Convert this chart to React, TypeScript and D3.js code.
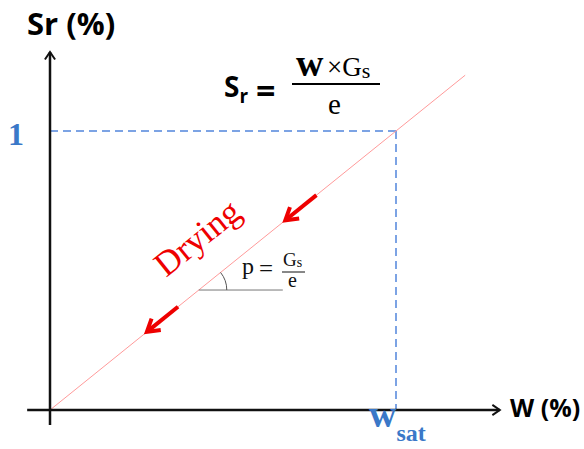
import React from 'react';
import * as d3 from 'd3';

// Sr = w * Gs / e, drawn in units where w_sat -> 1 and Sr(sat) -> 1
const lineW = [0, 1.2];
const lineSr = [0, 1.2];
const satW = 1;
const satSr = 1;

// drying arrows along the line (tail -> tip, in w units)
const arrowTail = [0.77, 0.37];
const arrowTip = [0.68, 0.28];

// axis extents
const xAxisExtent = [-0.066, 1.3];
const yAxisExtent = [-0.054, 1.283];

// slope marker
const slopeAt = 0.43;
const slopeEnd = 0.67;

const xLabel = 'W (%)';
const yLabel = 'Sr (%)';
const yTick = '1';
const xTick = 'w';
const xTickSub = 'sat';

const width = 584;
const height = 449;

const serif = '"Liberation Serif", "DejaVu Serif", serif';
const sans = '"Open Sans", "Noto Sans", sans-serif';

export default function App() {
    const x = d3.scaleLinear().domain([0, 1]).range([50, 396]);
    const y = d3.scaleLinear().domain([0, 1]).range([410, 131]);

    const line = d3.line<number>()
        .x((d, i) => x(lineW[i]))
        .y((d, i) => y(lineSr[i]));

    const angle = Math.atan2(y(0) - y(1), x(1) - x(0));
    const angleDeg = angle * 180 / Math.PI;

    // chevron at (tx, ty) pointing in direction dir (radians, screen)
    const chevron = (tx: number, ty: number, dir: number, len: number, spread: number) => {
        const p = d3.path();
        p.moveTo(tx - len * Math.cos(dir - spread), ty - len * Math.sin(dir - spread));
        p.lineTo(tx, ty);
        p.lineTo(tx - len * Math.cos(dir + spread), ty - len * Math.sin(dir + spread));
        return p.toString();
    };

    const arc = d3.path();
    const cx = x(slopeAt);
    const cy = y(slopeAt);
    arc.arc(cx, cy, 28, -angle, 0);

    const xa0 = x(xAxisExtent[0]);
    const xa1 = x(xAxisExtent[1]);
    const ya0 = y(yAxisExtent[0]);
    const ya1 = y(yAxisExtent[1]);

    return (
        <svg width={width} height={height} style={{ position: 'absolute', left: 0, top: 0, background: '#fff' }}>
            {/* saturation guides */}
            <line x1={x(0)} y1={y(satSr)} x2={x(satW)} y2={y(satSr)}
                stroke="#5285dc" strokeWidth={1.5} strokeDasharray="8,5" />
            <line x1={x(satW)} y1={y(satSr)} x2={x(satW)} y2={y(0)}
                stroke="#5285dc" strokeWidth={1.5} strokeDasharray="8,5" />

            {/* Sr line */}
            <path d={line(lineW) || ''} fill="none" stroke="#ff9a9a" strokeWidth={1} />

            {/* axes */}
            <line x1={xa0} y1={y(0)} x2={xa1} y2={y(0)} stroke="#111" strokeWidth={2.5} />
            <path d={chevron(xa1, y(0), 0, 9, 0.6)} fill="none" stroke="#111" strokeWidth={2} />
            <line x1={x(0)} y1={ya0} x2={x(0)} y2={ya1} stroke="#111" strokeWidth={2.5} />
            <path d={chevron(x(0), ya1, -Math.PI / 2, 9, 0.6)} fill="none" stroke="#111" strokeWidth={2} />

            <text x={27} y={35} fontFamily={sans} fontWeight="bold" fontSize={31} fill="#000">{yLabel}</text>
            <text x={510} y={417} fontFamily={sans} fontWeight="bold" fontSize={25} fill="#000">{xLabel}</text>

            <text x={8} y={145} fontFamily={serif} fontWeight="bold" fontSize={32} fill="#3a78c8">{yTick}</text>
            <text x={369} y={427} fontFamily={serif} fontWeight="bold" fontSize={38} fill="#3a78c8">
                {xTick}
                <tspan fontSize={24} dy={14}>{xTickSub}</tspan>
            </text>

            {/* drying arrows */}
            {arrowTail.map((t, i) => {
                const x1 = x(t), y1 = y(t), x2 = x(arrowTip[i]), y2 = y(arrowTip[i]);
                const dir = Math.atan2(y2 - y1, x2 - x1);
                return (
                    <g key={i}>
                        <line x1={x1} y1={y1} x2={x2 - 2 * Math.cos(dir)} y2={y2 - 2 * Math.sin(dir)}
                            stroke="#ee0000" strokeWidth={4} />
                        <path d={chevron(x2, y2, dir, 14, 0.55)} fill="none" stroke="#ee0000"
                            strokeWidth={4} strokeLinejoin="miter" />
                    </g>
                );
            })}

            <text transform={`translate(166,278) rotate(${-angleDeg})`} fontFamily={serif}
                fontSize={35} fill="#ee0000">Drying</text>

            {/* slope marker */}
            <line x1={cx} y1={cy} x2={x(slopeEnd) + 1} y2={cy} stroke="#777" strokeWidth={1} />
            <path d={arc.toString()} fill="none" stroke="#555" strokeWidth={1} />
            <text x={242} y={274} fontFamily={serif} fontSize={24} fill="#111">p</text>
            <text x={259} y={277} fontFamily={serif} fontSize={25} fill="#111">=</text>
            <line x1={282} y1={272} x2={305} y2={272} stroke="#111" strokeWidth={1} />
            <text x={283} y={266} fontFamily={serif} fontSize={19} fill="#111">
                G<tspan fontSize={14} dy={1}>s</tspan>
            </text>
            <text x={288} y={287} fontFamily={serif} fontSize={20} fill="#111">e</text>

            {/* main formula */}
            <text x={224} y={97} fontFamily={sans} fontWeight="bold" fontSize={28} fill="#000">
                S<tspan fontSize={19} dy={6}>r</tspan>
            </text>
            <text x={256} y={103} fontFamily={sans} fontWeight="bold" fontSize={34} fill="#000">=</text>
            <line x1={292} y1={84} x2={380} y2={84} stroke="#000" strokeWidth={1.8} />
            <text x={296} y={76} fontFamily={serif} fontWeight="bold" fontSize={38} fill="#000">w</text>
            <text x={327} y={76} fontFamily={serif} fontSize={27} fill="#000">
                ×G<tspan fontSize={22} dy={2}>s</tspan>
            </text>
            <text x={328} y={114} fontFamily={serif} fontSize={29} fill="#000">e</text>
        </svg>
    );
}
